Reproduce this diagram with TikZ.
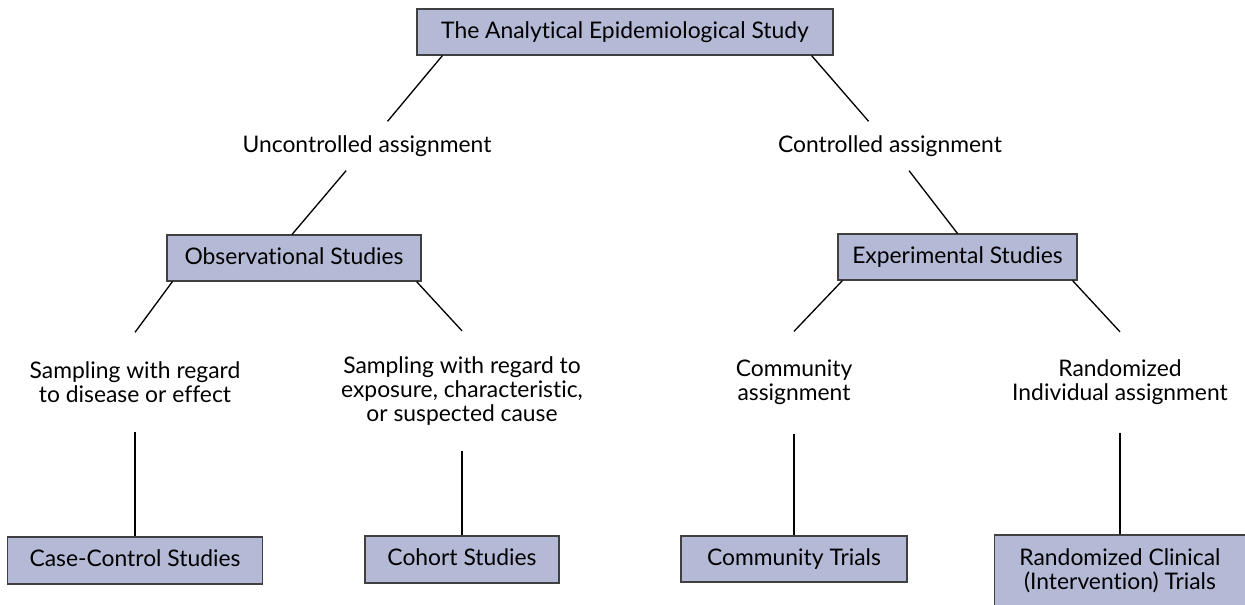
\documentclass[tikz,border=0pt]{standalone}
\usepackage{fontspec}
\setmainfont{Lato}[Ligatures=NoCommon]
\definecolor{boxfill}{RGB}{180,185,214}
\begin{document}
\begin{tikzpicture}[line width=0.75pt,font=\fontsize{13}{13.7}\selectfont,
  box/.style={draw=black!75,fill=boxfill,line width=0.6pt,inner sep=0pt,minimum height=0.92cm,align=center},
  single/.style={box,text height=0.9em,text depth=0.2em},
  lbl/.style={align=center,inner sep=0pt}]
\useasboundingbox (0,0) rectangle (24.9,12.08);
\node[single,minimum width=8.32cm] (study) at (12.5,11.44) {The Analytical Epidemiological Study};
\node[lbl,minimum width=5cm,minimum height=0.96cm] (uncon) at (7.34,9.16) {Uncontrolled assignment};
\node[lbl,minimum width=4.6cm,minimum height=0.96cm] (con) at (17.8,9.16) {Controlled assignment};
\node[single,minimum width=5.08cm] (obs) at (5.88,6.92) {Observational Studies};
\node[single,minimum width=4.78cm] (exp) at (19.15,6.94) {Experimental Studies};
\node[lbl,minimum height=1.96cm] (disease) at (2.7,4.44) {Sampling with regard\\to disease or effect};
\node[lbl,minimum height=2.38cm] (exposure) at (9.24,4.26) {Sampling with regard to\\exposure, characteristic,\\or suspected cause};
\node[lbl,minimum height=2.02cm] (commun) at (15.88,4.43) {Community\\assignment};
\node[lbl,minimum height=2cm] (indiv) at (22.4,4.43) {Randomized\\Individual assignment};
\node[single,minimum width=5.1cm,minimum height=0.94cm] (cc) at (2.7,0.87) {Case-Control Studies};
\node[single,minimum width=3.88cm,minimum height=0.94cm] (cohort) at (9.24,0.89) {Cohort Studies};
\node[single,minimum width=4.52cm] (ctrial) at (15.88,0.9) {Community Trials};
\node[box,minimum width=5.02cm,minimum height=1.44cm] (rct) at (22.4,0.66) {Randomized Clinical\\(Intervention) Trials};
\draw ([xshift=0.52cm]study.south west) -- (uncon);
\draw ([xshift=-0.44cm]study.south east) -- (con);
\draw (uncon) -- ([xshift=-0.04cm]obs.north);
\draw (con) -- (exp.north);
\draw ([xshift=0.12cm]obs.south west) -- (disease.north);
\draw ([xshift=-0.1cm]obs.south east) -- (exposure.north);
\draw ([xshift=0.1cm]exp.south west) -- (commun.north);
\draw ([xshift=-0.1cm]exp.south east) -- (indiv.north);
\draw (disease) -- (cc);
\draw (exposure) -- (cohort);
\draw (commun) -- (ctrial);
\draw (indiv) -- (rct);
\end{tikzpicture}
\end{document}
